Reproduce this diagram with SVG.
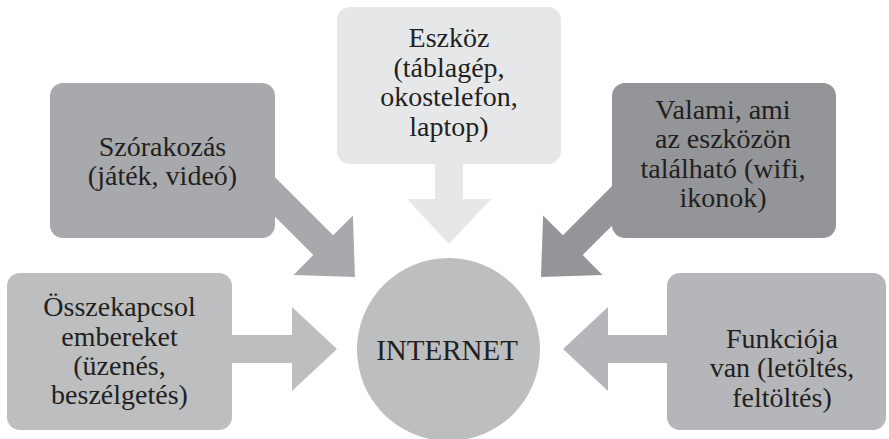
<svg xmlns="http://www.w3.org/2000/svg" width="889" height="439" viewBox="0 0 889 439">
<style>
text{font-family:"Liberation Serif","Tinos","Times New Roman","DejaVu Serif",serif;font-size:28px;fill:#231f20;text-anchor:middle}
.c1{fill:#a7a9ac}.c2{fill:#e6e7e8}.c3{fill:#939598}.c4{fill:#bcbec0}.c5{fill:#b4b6b9}.c6{fill:#bcbec0}
</style>
<rect width="889" height="439" fill="#ffffff"/>
<g id="connectors">
<polygon class="c1" points="253.1,155.3 333.1,235.3 352.9,215.5 355,277 293.5,274.9 313.3,255.1 233.3,175.1"/>
<polygon class="c2" points="435,150 463,150 463,199 491,199 449,244 407,199 435,199"/>
<polygon class="c3" points="662.7,175.1 582.7,255.1 602.5,274.9 541,277 543.1,215.5 562.9,235.3 642.9,155.3"/>
<polygon class="c4" points="220,335 292,335 292,307 337,349 292,391 292,363 220,363"/>
<polygon class="c5" points="680,335 608,335 608,307 563,349 608,391 608,363 680,363"/>
</g>
<g id="node-szorakozas">
<rect class="c1" x="50" y="83" width="225" height="155" rx="13"/>
<text x="162.5" y="156">Szórakozás</text>
<text x="162.5" y="185">(játék, videó)</text>
</g>
<g id="node-eszkoz">
<rect class="c2" x="337" y="7" width="224" height="157" rx="13"/>
<text x="449" y="47">Eszköz</text>
<text x="449" y="76.5">(táblagép,</text>
<text x="449" y="106">okostelefon,</text>
<text x="449" y="135.5">laptop)</text>
</g>
<g id="node-valami">
<rect class="c3" x="612" y="83" width="224" height="155" rx="13"/>
<text x="723" y="119">Valami, ami</text>
<text x="723" y="148">az eszközön</text>
<text x="723" y="178">található (wifi,</text>
<text x="723" y="207">ikonok)</text>
</g>
<g id="node-osszekapcsol">
<rect class="c4" x="7" y="273" width="225" height="157" rx="13"/>
<text x="119.5" y="316">Összekapcsol</text>
<text x="119.5" y="346">embereket</text>
<text x="119.5" y="375">(üzenés,</text>
<text x="119.5" y="404">beszélgetés)</text>
</g>
<g id="node-funkcioja">
<rect class="c5" x="667" y="273" width="219" height="157" rx="13"/>
<text x="782" y="348">Funkciója</text>
<text x="782" y="377">van (letöltés,</text>
<text x="782" y="407">feltöltés)</text>
</g>
<g id="node-internet">
<circle class="c6" cx="448.5" cy="349.5" r="91.5"/>
<text x="447" y="360" style="font-size:29px">INTERNET</text>
</g>
</svg>
